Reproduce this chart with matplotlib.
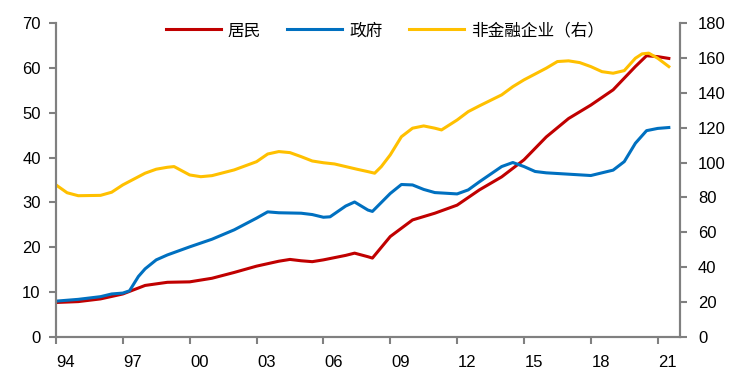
import matplotlib.pyplot as plt
import matplotlib.transforms as mtransforms

plt.rcParams['font.family'] = ['Liberation Sans', 'Noto Sans CJK SC', 'DejaVu Sans']

# 居民 (left axis)
hh_x = [1994, 1995, 1996, 1997, 1998, 1999, 2000, 2001, 2002, 2003, 2004, 2004.5,
        2005, 2005.5, 2006, 2007, 2007.4, 2008, 2008.2, 2009, 2010, 2011, 2012, 2013,
        2014, 2015, 2016, 2017, 2018, 2019, 2020, 2020.5, 2021, 2021.5]
hh_y = [7.7, 7.9, 8.5, 9.6, 11.5, 12.2, 12.3, 13.1, 14.4, 15.8, 16.9, 17.3,
        17.0, 16.8, 17.2, 18.2, 18.7, 17.9, 17.6, 22.4, 26.1, 27.6, 29.4, 32.8,
        35.7, 39.5, 44.6, 48.7, 51.7, 55.1, 60.3, 62.7, 62.5, 62.1]

# 政府 (left axis)
gov_x = [1994, 1995, 1996, 1996.5, 1997, 1997.3, 1997.7, 1998, 1998.5, 1999, 2000,
         2001, 2002, 2003, 2003.5, 2004, 2005, 2005.5, 2006, 2006.3, 2007, 2007.4,
         2008, 2008.2, 2009, 2009.5, 2010, 2010.5, 2011, 2012, 2012.5, 2013, 2014,
         2014.5, 2015, 2015.5, 2016, 2017, 2018, 2019, 2019.5, 2020, 2020.5, 2021, 2021.5]
gov_y = [8.0, 8.4, 9.0, 9.6, 9.8, 10.3, 13.5, 15.2, 17.2, 18.3, 20.1,
         21.8, 23.9, 26.5, 27.9, 27.7, 27.6, 27.3, 26.7, 26.8, 29.2, 30.1,
         28.3, 28.0, 32.0, 34.0, 33.9, 32.9, 32.2, 31.9, 32.8, 34.6, 38.0,
         38.9, 38.0, 36.9, 36.6, 36.3, 36.0, 37.2, 39.1, 43.2, 46.0, 46.5, 46.7]

# 非金融企业 (right axis)
corp_x = [1994, 1994.5, 1995, 1996, 1996.5, 1997, 1998, 1998.5, 1999, 1999.3, 2000,
          2000.5, 2001, 2002, 2003, 2003.5, 2004, 2004.5, 2005, 2005.5, 2006, 2006.5,
          2007, 2007.5, 2008, 2008.3, 2008.6, 2009, 2009.5, 2010, 2010.5, 2011, 2011.3,
          2012, 2012.5, 2013, 2014, 2014.5, 2015, 2016, 2016.5, 2017, 2017.5, 2018,
          2018.5, 2019, 2019.5, 2020, 2020.3, 2020.6, 2021, 2021.5]
corp_y = [87.2, 82.7, 81.0, 81.2, 83.0, 87.2, 93.9, 96.2, 97.3, 97.7, 92.9,
          91.9, 92.5, 95.8, 100.5, 104.9, 106.3, 105.7, 103.4, 100.9, 99.9, 99.2,
          97.7, 96.2, 94.8, 93.9, 97.7, 104.4, 114.8, 119.7, 121.0, 119.7, 118.7,
          124.4, 129.2, 132.5, 138.8, 143.5, 147.4, 154.1, 157.9, 158.3, 157.3, 155.0,
          152.1, 151.2, 152.7, 159.8, 162.3, 162.7, 159.8, 155.0]

year_ticks = list(range(1994, 2022, 3))
year_labels = ['94', '97', '00', '03', '06', '09', '12', '15', '18', '21']

fig = plt.figure(figsize=(7.46, 3.83), dpi=100)
ax = fig.add_axes([0.075, 0.12, 0.8365, 0.82])
ax2 = ax.twinx()

l1, = ax.plot(hh_x, hh_y, color='#C00000', lw=2.2, label='居民')
l2, = ax.plot(gov_x, gov_y, color='#0070C0', lw=2.2, label='政府')
l3, = ax2.plot(corp_x, corp_y, color='#FFC000', lw=2.2, label='非金融企业（右）')

ax.set_xlim(1994, 2022)
ax.set_ylim(0, 70)
ax2.set_ylim(0, 180)
ax.set_yticks(range(0, 71, 10))
ax2.set_yticks(range(0, 181, 20))
ax.set_xticks(year_ticks)
ax.set_xticklabels(year_labels)

grey = '#808080'
for a in (ax, ax2):
    a.spines['top'].set_visible(False)
    for s in ('left', 'right', 'bottom'):
        a.spines[s].set_color(grey)
        a.spines[s].set_linewidth(1.5)
    a.tick_params(colors=grey, labelcolor='black', labelsize=12, length=5, width=1.5,
                  direction='out')
ax.tick_params(axis='x', pad=8)
ax.tick_params(axis='y', pad=6)
ax2.tick_params(axis='y', pad=8)

# labels sit a bit to the right of the tick marks
offset = mtransforms.ScaledTranslation(10 / 100, 0, fig.dpi_scale_trans)
for lab in ax.get_xticklabels():
    lab.set_transform(lab.get_transform() + offset)

leg = ax.legend(handles=[l1, l2, l3], loc='upper center', bbox_to_anchor=(0.527, 1.05),
                ncol=3, frameon=False, handlelength=3.3, handletextpad=0.4,
                columnspacing=1.6, prop={'family': ['Noto Sans CJK SC', 'DejaVu Sans'], 'size': 12})

fig.savefig('out.png', dpi=100)
